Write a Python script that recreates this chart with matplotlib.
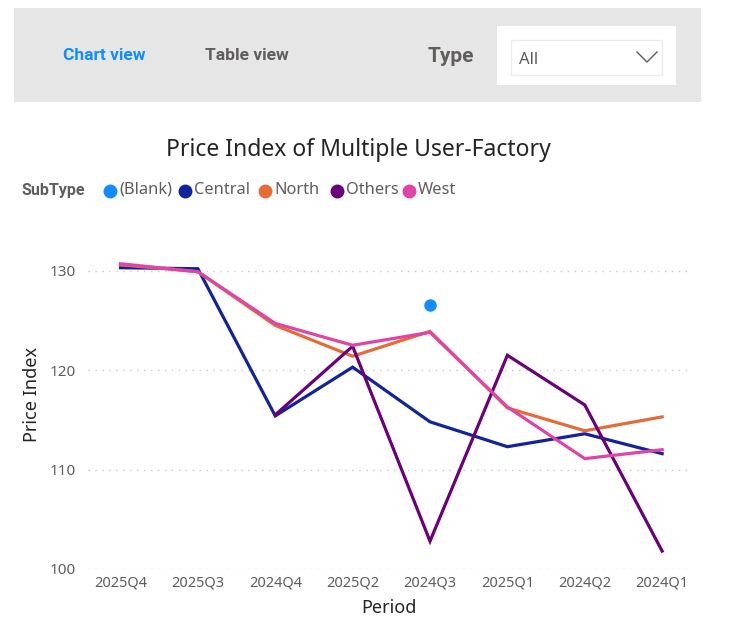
import matplotlib.pyplot as plt
import numpy as np
from matplotlib.patches import Rectangle

plt.rcParams['font.family'] = ['Noto Sans', 'DejaVu Sans']

periods = ['2025Q4', '2025Q3', '2024Q4', '2025Q2', '2024Q3', '2025Q1', '2024Q2', '2024Q1']
nan = np.nan
blank = [nan, nan, nan, nan, 126.6, nan, nan, nan]
central = [130.3, 130.2, 115.4, 120.3, 114.8, 112.3, 113.6, 111.6]
north = [130.6, 129.9, 124.5, 121.4, 123.9, 116.2, 113.9, 115.3]
others = [nan, nan, 115.5, 122.4, 102.8, 121.5, 116.5, 101.8]
west = [130.7, 129.9, 124.7, 122.5, 123.8, 116.3, 111.1, 112.0]
yticks = [100, 110, 120, 130]

series = [('(Blank)', blank, '#118DFF'), ('Central', central, '#12239E'),
          ('North', north, '#E66C37'), ('Others', others, '#6B007B'),
          ('West', west, '#E044A7')]

W, H = 736, 640
fig = plt.figure(figsize=(W / 100, H / 100), dpi=100, facecolor='white')

# overlay in pixel coordinates for the header / legend
ov = fig.add_axes([0, 0, 1, 1], zorder=0)
ov.set_xlim(0, W)
ov.set_ylim(H, 0)
ov.axis('off')

bold = ['Roboto', 'DejaVu Sans']
ov.add_patch(Rectangle((14, 8), 687, 94, facecolor='#e6e6e6', edgecolor='none'))
ov.add_patch(Rectangle((497, 26), 179, 59, facecolor='white', edgecolor='none'))
ov.add_patch(Rectangle((511, 40), 151, 35, facecolor='white', edgecolor='#ececec', lw=1))
ov.text(63, 56, 'Chart view', color='#118DFF', fontsize=12.5, fontweight='bold',
        family=bold, va='center')
ov.text(205, 56, 'Table view', color='#605E5C', fontsize=12.5, fontweight='bold',
        family=bold, va='center')
ov.text(428, 56, 'Type', color='#605E5C', fontsize=15, fontweight='bold',
        family=bold, va='center')
ov.text(519, 60, 'All', color='#605E5C', fontsize=12, va='center')
ov.plot([637, 647, 657], [52, 62, 52], color='#605E5C', lw=1)

ov.text(358, 150, 'Price Index of Multiple User-Factory', color='#252423', fontsize=16.5,
        ha='center', va='center')

ov.text(22, 190, 'SubType', color='#605E5C', fontsize=11.5, fontweight='bold',
        family=bold, va='center')
leg_x = [110, 185, 265, 337, 409]
for (name, vals, col), lx in zip(series, leg_x):
    ov.plot(lx, 191, 'o', color=col, markersize=9)
    ov.text(lx + 9, 190, name, color='#605E5C', fontsize=11.8, va='center')

# chart area
ax = fig.add_axes([88 / W, 1 - 569 / H, 602 / W, 348 / H], zorder=1)
ax.patch.set_alpha(0)
x = np.arange(len(periods))
for name, vals, col in series:
    if name == '(Blank)':
        ax.plot(x, vals, 'o', color=col, markersize=8, zorder=3)
    else:
        ax.plot(x, vals, color=col, lw=2.3, solid_joinstyle='miter', zorder=2)

ax.set_xlim(-0.42, 7.36)
ax.set_ylim(100, 135)
ax.set_yticks(yticks)
ax.set_xticks(x)
ax.set_xticklabels(periods)
ax.tick_params(axis='both', length=0, labelsize=10.5, labelcolor='#605E5C')
ax.tick_params(axis='y', pad=9, labelsize=11)
ax.tick_params(axis='x', pad=5)
ax.grid(axis='y', color='#c8c8c8', linestyle=(0, (1, 4)), lw=1)
for s in ax.spines.values():
    s.set_visible(False)
ax.set_xlabel('Period', fontsize=13, color='#252423', labelpad=6)
ax.set_ylabel('Price Index', fontsize=13, color='#252423', labelpad=6)

fig.savefig('out.png', dpi=100, facecolor='white')
